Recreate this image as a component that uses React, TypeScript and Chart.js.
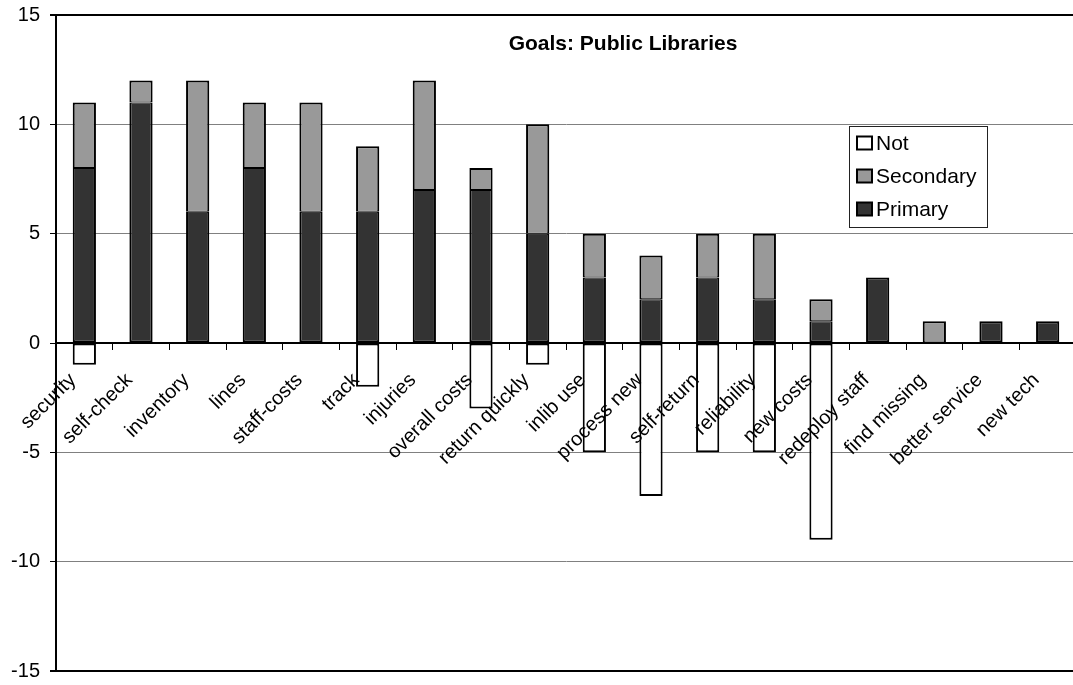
import { useEffect, useRef } from "react";
import { Chart, registerables } from "chart.js";

Chart.register(...registerables);

const FONT = '"Liberation Sans", Arial, Helvetica, sans-serif';

const categories = [
  "security",
  "self-check",
  "inventory",
  "lines",
  "staff-costs",
  "track",
  "injuries",
  "overall costs",
  "return quickly",
  "inlib use",
  "process new",
  "self-return",
  "reliability",
  "new costs",
  "redeploy staff",
  "find missing",
  "better service",
  "new tech",
];

const primary = [8, 11, 6, 8, 6, 6, 7, 7, 5, 3, 2, 3, 2, 1, 3, 0, 1, 1];
const secondary = [3, 1, 6, 3, 5, 3, 5, 1, 5, 2, 2, 2, 3, 1, 0, 1, 0, 0];
const notGoal = [-1, 0, 0, 0, 0, -2, 0, -3, -1, -5, -7, -5, -5, -9, 0, 0, 0, 0];

const seriesNames = ["Primary", "Secondary", "Not"];
const seriesColors = ["#333333", "#999999", "#ffffff"];

const chartTitle = "Goals: Public Libraries";

// Bold title drawn inside the plot area
const titlePlugin = {
  id: "innerTitle",
  afterDraw(chart: any) {
    const { ctx } = chart;
    ctx.save();
    ctx.font = `bold 21px ${FONT}`;
    ctx.fillStyle = "#000";
    ctx.textAlign = "center";
    ctx.textBaseline = "alphabetic";
    ctx.fillText(chartTitle, 623, 50);
    ctx.restore();
  },
};

// Category names written at 45 degrees just under the zero line
const categoryLabelPlugin = {
  id: "slantedCategories",
  afterDatasetsDraw(chart: any) {
    const { ctx } = chart;
    const xs = chart.scales.x;
    const ys = chart.scales.y;
    const y0 = ys.getPixelForValue(0);
    ctx.save();
    ctx.font = `20px ${FONT}`;
    ctx.fillStyle = "#000";
    ctx.textAlign = "right";
    ctx.textBaseline = "middle";
    categories.forEach((name, i) => {
      const px = xs.getPixelForValue(i);
      ctx.save();
      ctx.translate(px - 11.5, y0 + 34);
      ctx.rotate(-Math.PI / 4);
      ctx.fillText(name, 0, 0);
      ctx.restore();
    });
    ctx.restore();
  },
};

// Boxed legend in the upper right of the plot, listed top-down as Not / Secondary / Primary
const legendPlugin = {
  id: "boxLegend",
  afterDraw(chart: any) {
    const { ctx } = chart;
    const left = 849;
    const top = 126;
    const w = 138;
    const h = 101;
    ctx.save();
    ctx.fillStyle = "#fff";
    ctx.fillRect(left, top, w, h);
    ctx.strokeStyle = "#222";
    ctx.lineWidth = 1;
    ctx.strokeRect(left + 0.5, top + 0.5, w, h);
    const order = [2, 1, 0];
    ctx.font = `21px ${FONT}`;
    ctx.textAlign = "left";
    ctx.textBaseline = "middle";
    order.forEach((idx, i) => {
      const cy = 143 + i * 33;
      ctx.fillStyle = seriesColors[idx];
      ctx.fillRect(857, cy - 6.5, 15, 13);
      ctx.strokeStyle = "#000";
      ctx.lineWidth = 2;
      ctx.strokeRect(857, cy - 6.5, 15, 13);
      ctx.fillStyle = "#000";
      ctx.fillText(seriesNames[idx], 876, cy + 1);
    });
    ctx.restore();
  },
};

export default function App() {
  const canvasRef = useRef<HTMLCanvasElement | null>(null);

  useEffect(() => {
    const canvas = canvasRef.current;
    if (!canvas) return;
    const values = [primary, secondary, notGoal];
    // Stacked segments share one 2px seam instead of two overlapping borders
    const borders = [
      (c: any) => ({ left: 2, right: 2, bottom: 2, top: secondary[c.dataIndex] > 0 ? 1 : 2 }),
      () => ({ left: 2, right: 2, bottom: 1, top: 2 }),
      () => 2,
    ];
    const chart = new Chart(canvas, {
      type: "bar",
      data: {
        labels: categories,
        datasets: values.map((data, i) => ({
          label: seriesNames[i],
          data,
          backgroundColor: seriesColors[i],
          borderColor: "#000",
          borderWidth: borders[i],
          borderSkipped: false,
          barPercentage: 0.41,
          categoryPercentage: 1.0,
        })),
      },
      options: {
        responsive: false,
        animation: false,
        devicePixelRatio: 1,
        layout: { padding: { top: 15, bottom: 14, left: 0, right: 0 } },
        plugins: {
          legend: { display: false },
          title: { display: false },
          tooltip: { enabled: false },
        },
        scales: {
          x: {
            stacked: true,
            position: { y: 0 },
            z: 1,
            offset: true,
            grid: {
              display: true,
              drawOnChartArea: false,
              drawTicks: true,
              tickLength: 6,
              tickColor: "#000",
              offset: true,
            },
            border: { display: true, color: "#000", width: 2 },
            ticks: { display: false },
          },
          y: {
            stacked: true,
            min: -15,
            max: 15,
            afterFit: (scale: any) => {
              scale.width = 56;
              scale.paddingTop = 0;
              scale.paddingBottom = 0;
            },
            ticks: {
              stepSize: 5,
              padding: 10,
              color: "#000",
              font: { family: FONT, size: 20 },
            },
            grid: {
              color: (ctx: any) =>
                Math.abs(ctx.tick.value) === 15 || ctx.tick.value === 0 ? "#000" : "#808080",
              lineWidth: (ctx: any) => (Math.abs(ctx.tick.value) === 15 ? 2 : 1),
              tickColor: "#000",
              tickLength: 6,
            },
            border: { display: true, color: "#000", width: 2 },
          },
        },
      },
      plugins: [categoryLabelPlugin, titlePlugin, legendPlugin],
    });
    return () => chart.destroy();
  }, []);

  return (
    <div
      style={{
        position: "fixed",
        left: 0,
        top: 0,
        width: "1073px",
        height: "685px",
        overflow: "hidden",
        background: "#fff",
      }}
    >
      <canvas
        ref={canvasRef}
        width={1076}
        height={685}
        style={{ display: "block", width: "1076px", height: "685px" }}
      />
    </div>
  );
}
